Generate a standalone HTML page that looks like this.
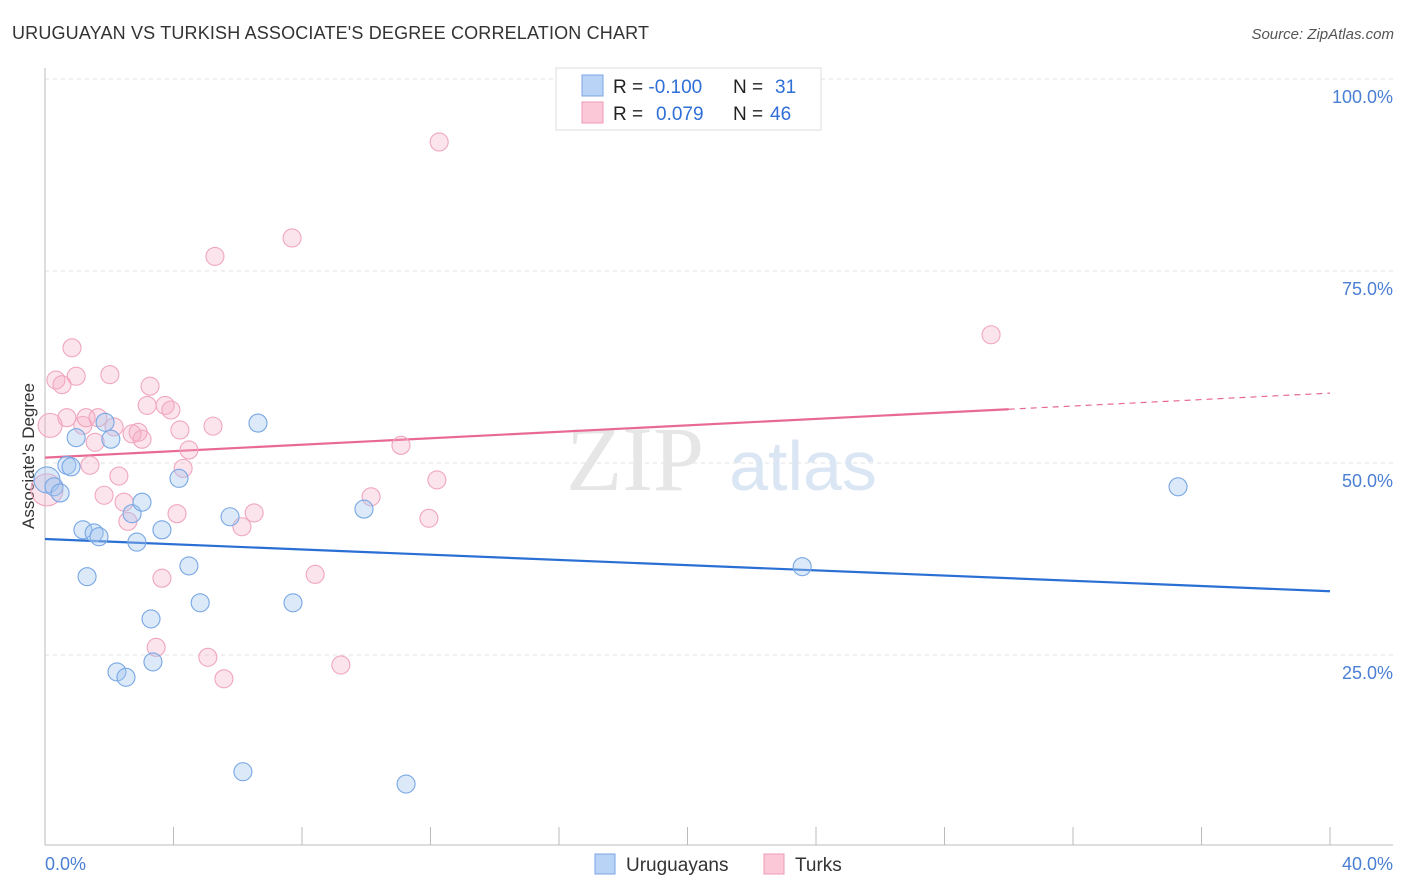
<!DOCTYPE html>
<html><head><meta charset="utf-8"><style>
body{margin:0;background:#fff;font-family:"Liberation Sans",sans-serif;}
#wrap{position:relative;width:1406px;height:892px;overflow:hidden;}
</style></head><body>
<div id="wrap">
<svg id="chart" width="1406" height="892">
<text x="12" y="39" font-size="18" fill="#333" textLength="637">URUGUAYAN VS TURKISH ASSOCIATE'S DEGREE CORRELATION CHART</text>
<text x="1394" y="39" font-size="15" fill="#555" text-anchor="end" font-style="italic">Source: ZipAtlas.com</text>
<g id="grid"></g>
<text x="635" y="490" font-size="92" fill="#e6e6e6" font-family="Liberation Serif,serif" text-anchor="middle">ZIP</text>
<text x="803" y="490" font-size="70" fill="#dbe6f4" text-anchor="middle">atlas</text>
<line x1="45" y1="68" x2="45" y2="845" stroke="#bbb"/>
<line x1="45" y1="845" x2="1393" y2="845" stroke="#bbb"/>
<g id="ticks"></g>
<text x="34" y="456" font-size="17" fill="#333" text-anchor="middle" transform="rotate(-90 34 456)">Associate's Degree</text>
<text x="45" y="870" font-size="18" fill="#4a7fd4">0.0%</text>
<text x="1393" y="870" font-size="18" fill="#4a7fd4" text-anchor="end">40.0%</text>
<g id="lines"></g>
<g id="pts"></g>
<g>
<rect x="556" y="68" width="265" height="62" fill="#fff" stroke="#ddd"/>
<rect x="582" y="75" width="21" height="21" fill="#b8d3f5" stroke="#7aa6e4"/>
<rect x="582" y="102" width="21" height="21" fill="#fbc8d7" stroke="#ef9ab5"/>
<text x="613" y="93" font-size="19" fill="#222">R = <tspan fill="#2f6fd6">-0.100</tspan><tspan x="733">N = </tspan><tspan x="775" fill="#2f6fd6">31</tspan></text>
<text x="613" y="120" font-size="19" fill="#222">R = <tspan x="656" fill="#2f6fd6">0.079</tspan><tspan x="733">N = </tspan><tspan x="770" fill="#2f6fd6">46</tspan></text>
</g>
<g>
<rect x="595" y="854" width="20" height="20" fill="#b8d3f5" stroke="#7aa6e4"/>
<text x="626" y="871" font-size="19" fill="#333">Uruguayans</text>
<rect x="764" y="854" width="20" height="20" fill="#fbc8d7" stroke="#ef9ab5"/>
<text x="795" y="871" font-size="19" fill="#333">Turks</text>
</g>
</svg>
</div>
<script>
const yTicks=[25,50,75,100];
const yTickLabels=["25.0%","50.0%","75.0%","100.0%"];
const blueX=[0.06,0.28,0.47,0.68,0.81,0.97,1.18,1.53,1.68,1.31,1.87,2.05,2.71,2.86,3.02,3.30,3.36,2.24,2.52,3.64,4.17,4.48,4.83,5.76,6.16,6.63,7.72,9.93,11.24,23.57,35.27];
const blueY=[47.8,46.9,46.1,49.7,49.5,53.3,41.3,40.9,40.4,35.2,55.3,53.1,43.4,39.7,44.9,29.7,24.1,22.8,22.1,41.3,48.0,36.6,31.8,43.0,9.8,55.2,31.8,44.0,8.2,36.5,46.9];
const pinkX=[0.06,0.16,0.34,0.53,0.84,0.97,0.68,1.18,1.28,1.65,1.56,1.40,2.02,2.15,1.84,2.30,2.46,2.58,2.71,2.90,3.02,3.18,3.27,3.64,3.46,3.74,3.92,4.11,4.20,4.30,4.48,5.07,5.23,5.29,5.57,6.13,6.51,7.69,8.41,9.21,10.15,11.08,11.95,12.20,12.27,29.45];
const pinkY=[46.5,54.9,60.8,60.2,65.0,61.3,55.9,54.9,55.9,55.9,52.7,49.7,61.5,54.7,45.8,48.3,44.9,42.4,53.8,54.0,53.1,57.5,60.0,35.0,26.0,57.5,56.9,43.4,54.3,49.3,51.7,24.7,54.8,76.9,21.9,41.7,43.5,79.3,35.5,23.7,45.6,52.3,42.8,47.8,91.8,66.7];
const blueTrend=[40.1,33.3];
const pinkTrend=[50.7,59.1];
const NS="http://www.w3.org/2000/svg";
const xs=v=>45+v/40*1285, ys=v=>847-v/100*768;
function mk(t,a,p){const e=document.createElementNS(NS,t);for(const k in a)e.setAttribute(k,a[k]);p.appendChild(e);return e;}
const grid=document.getElementById('grid');
yTicks.forEach((t,i)=>{
 const l=mk('line',{x1:45,x2:1393,y1:ys(t),y2:ys(t),stroke:'#e2e2e2','stroke-dasharray':'4,4'},grid);
 
 
 const tx=mk('text',{x:1393,y:ys(t)+24,'font-size':18,fill:'#4a7fd4','text-anchor':'end'},grid);
 tx.textContent=yTickLabels[i];
 
 
});
const tk=document.getElementById('ticks');
for(let i=1;i<=10;i++){const l=mk('line',{x1:xs(i*4),x2:xs(i*4),y1:827,y2:845,stroke:'#bbb'},tk);
 
 }
const pts=document.getElementById('pts');
pinkX.forEach((x,i)=>{const c=mk('circle',{cx:xs(x),cy:ys(pinkY[i]),r:i<2?(i==0?16:12):9,fill:'rgba(246,172,196,0.32)',stroke:'#f0a6bf','stroke-width':1.1},pts);
 
 });
blueX.forEach((x,i)=>{const c=mk('circle',{cx:xs(x),cy:ys(blueY[i]),r:i==0?13:9,fill:'rgba(160,196,240,0.38)',stroke:'#78a7e4','stroke-width':1.1},pts);
 
 });
const ln=document.getElementById('lines');
const b=mk('line',{x1:xs(0),y1:ys(blueTrend[0]),x2:xs(40),y2:ys(blueTrend[1]),stroke:'#2a6fd4','stroke-width':2.2},ln);


const pm=v=>pinkTrend[0]+(pinkTrend[1]-pinkTrend[0])*v/40;
const p1=mk('line',{x1:xs(0),y1:ys(pm(0)),x2:xs(30),y2:ys(pm(30)),stroke:'#e86a93','stroke-width':2.2},ln);


const p2=mk('line',{x1:xs(30),y1:ys(pm(30)),x2:xs(40),y2:ys(pm(40)),stroke:'#e86a93','stroke-width':1.2,'stroke-dasharray':'6,5'},ln);


</script>
</body></html>
